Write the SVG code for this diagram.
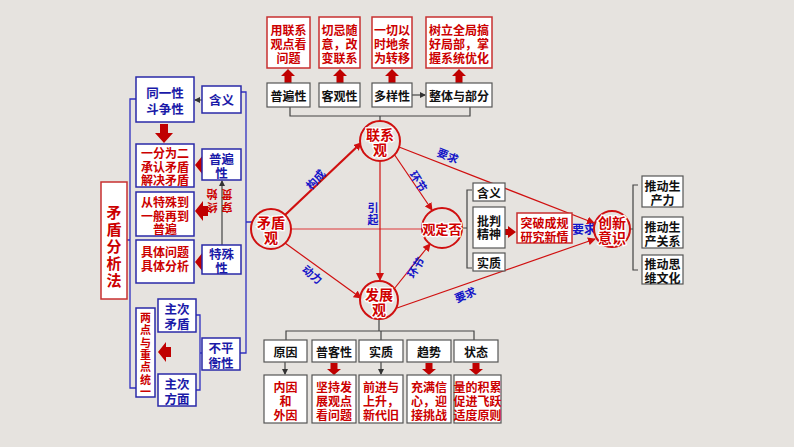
<svg xmlns="http://www.w3.org/2000/svg" width="794" height="447" viewBox="0 0 794 447">
<style>
text{font-family:"Noto Sans CJK SC","Noto Sans",sans-serif;font-weight:bold;text-anchor:middle;dominant-baseline:central}
.bb{fill:#fff;stroke:#2a2aa8;stroke-width:1.5}
.rb{fill:#fff;stroke:#c83030;stroke-width:1.5}
.gb{fill:#fff;stroke:#555;stroke-width:1.2}
.bt{fill:#1a1aa8;font-size:12.5px}
.rt{fill:#cc0000;font-size:12px}
.kt{fill:#111;font-size:12px}
.ct{fill:#d00000;font-size:14px;stroke:#fff;stroke-width:2.5;paint-order:stroke}
.cc{fill:#e6e3df;stroke:#d01010;stroke-width:2}
.lb{fill:#1515c8;font-size:11px}
.bl{stroke:#3030c0;stroke-width:1.3;fill:none}
.kl{stroke:#444;stroke-width:1.2;fill:none}
.rl{stroke:#d01010;stroke-width:1.2;fill:none}
.ba{fill:#c00000}
</style>
<defs>
<marker id="ra" markerWidth="8" markerHeight="8" refX="7" refY="4" orient="auto" markerUnits="userSpaceOnUse"><path d="M0,0 L8,4 L0,8 Z" fill="#d01010"/></marker>
<marker id="ka" markerWidth="6" markerHeight="6" refX="5" refY="3" orient="auto" markerUnits="userSpaceOnUse"><path d="M0,0 L6,3 L0,6 Z" fill="#333"/></marker>
<path id="ua" d="M0,0 L7,7 L3.5,7 L3.5,14 L-3.5,14 L-3.5,7 L-7,7 Z"/>
<path id="da" d="M0,0 L-7,-6 L-3.5,-6 L-3.5,-12 L3.5,-12 L3.5,-6 L7,-6 Z"/>
<path id="la" d="M0,0 L8,-10 L8,-5 L13,-5 L13,5 L8,5 L8,10 Z"/>
</defs>
<rect width="794" height="447" fill="#e6e3df"/>

<g id="connectors">
<path class="bl" d="M136,99 H130 V388 H136 M127,240 H130"/>
<path class="bl" d="M241,92 H246 V353 H240 M246,222 H253"/>
<path class="bl" d="M196,315 H200 V390 H196 M200,353 H202"/>
<path class="kl" d="M202,100 H195" marker-end="url(#ka)"/>
<path class="kl" d="M222,245 V181" marker-end="url(#ka)"/>
<path class="kl" d="M290,107 V116 H470 V107 M380,116 V121"/>
<path class="kl" d="M412,95 H425" marker-end="url(#ka)"/>
<path class="kl" d="M379,319 V331 M286,340 V331 H474 V340 M381,331 V340"/>
<path class="kl" d="M285,362 V374" marker-end="url(#ka)"/>
<path class="kl" d="M381,362 V374" marker-end="url(#ka)"/>
<path class="kl" d="M462,228 H467 M472,190 H467 V268 H472"/>
<path class="kl" d="M630,229 H633 M638,185 H633 V270 H638"/>
<path d="M285,215 L361,143" stroke="#d01010" stroke-width="2.2" fill="none" marker-end="url(#ra)"/>
<path class="rl" d="M285,243 L361,298" marker-end="url(#ra)"/>
<path d="M291,229 H422" stroke="#e07070" stroke-width="1.3"/>
<path class="rl" d="M380,162 V280" marker-end="url(#ra)"/>
<path class="rl" d="M394,154 L432,210" marker-end="url(#ra)"/>
<path class="rl" d="M394,289 L430,244" marker-end="url(#ra)"/>
<path class="rl" d="M399,147 L594,223" marker-end="url(#ra)"/>
<path class="rl" d="M397,308 L595,239" marker-end="url(#ra)"/>
<text class="lb" transform="translate(315,179) rotate(-48)">构成</text>
<text class="lb" transform="translate(313,274) rotate(40)">动力</text>
<text class="lb" x="373" y="207"><tspan x="373">引</tspan><tspan x="373" dy="12">起</tspan></text>
<text class="lb" transform="translate(419,181) rotate(58)">环节</text>
<text class="lb" transform="translate(415,267) rotate(-58)">环节</text>
<text class="lb" transform="translate(448,155) rotate(22)">要求</text>
<text class="lb" transform="translate(465,294) rotate(-22)">要求</text>
<text class="lb" x="584" y="228" style="font-size:12px">要求</text>
<text class="rt" style="font-size:11px" transform="rotate(180 220 201)"><tspan x="213" y="194">穿</tspan><tspan x="213" y="207">贯</tspan><tspan x="228" y="194">终</tspan><tspan x="228" y="207">始</tspan></text>
<g class="ba">
<use href="#ua" x="288" y="69"/><use href="#ua" x="340" y="69"/><use href="#ua" x="392" y="69"/><use href="#ua" x="459" y="69"/>
<use href="#da" x="334" y="375"/><use href="#da" x="429" y="375"/><use href="#da" x="476" y="375"/>
<path d="M164,143 L155,133 L160,133 L160,124 L168,124 L168,133 L173,133 Z"/>
<use href="#la" x="195" y="165"/><use href="#la" x="195" y="211"/><use href="#la" x="195" y="262"/><use href="#la" x="158" y="352"/>
<path d="M516,232 L508,226 L508,229 L505,229 L505,235 L508,235 L508,238 Z"/>
</g>
</g>

<g id="title"><rect x="101" y="182" width="26" height="117" class="rb"/>
<text class="rt" style="font-size:15px"><tspan x="114" y="211">矛</tspan><tspan x="114" dy="17">盾</tspan><tspan x="114" dy="17">分</tspan><tspan x="114" dy="17">析</tspan><tspan x="114" dy="17">法</tspan></text></g>

<g id="n-tongyi"><rect x="136" y="77" width="58" height="45" class="bb"/><text class="bt"><tspan x="165" y="92">同一性</tspan><tspan x="165" dy="16">斗争性</tspan></text></g>
<g id="n-yifen"><rect x="136" y="144" width="58" height="43" class="bb"/><text class="rt"><tspan x="165" y="152">一分为二</tspan><tspan x="165" dy="13.5">承认矛盾</tspan><tspan x="165" dy="13.5">解决矛盾</tspan></text></g>
<g id="n-cong"><rect x="136" y="192" width="58" height="44" class="bb"/><text class="rt"><tspan x="165" y="201">从特殊到</tspan><tspan x="165" dy="13.5">一般再到</tspan><tspan x="165" dy="13.5">普遍</tspan></text></g>
<g id="n-juti"><rect x="136" y="240" width="58" height="43" class="bb"/><text class="rt"><tspan x="165" y="251">具体问题</tspan><tspan x="165" dy="14">具体分析</tspan></text></g>
<g id="n-liangdian"><rect x="136" y="308" width="19" height="89" class="bb"/>
<text class="rt" style="font-size:11px"><tspan x="145.5" y="317">两</tspan><tspan x="145.5" dy="12.3">点</tspan><tspan x="145.5" dy="12.3">与</tspan><tspan x="145.5" dy="12.3">重</tspan><tspan x="145.5" dy="12.3">点</tspan><tspan x="145.5" dy="12.3">统</tspan><tspan x="145.5" dy="12.3">一</tspan></text></g>
<g id="n-zhucimaodun"><rect x="158" y="299" width="38" height="33" class="bb"/><text class="bt"><tspan x="177" y="308">主次</tspan><tspan x="177" dy="15">矛盾</tspan></text></g>
<g id="n-zhucifangmian"><rect x="158" y="374" width="38" height="32" class="bb"/><text class="bt"><tspan x="177" y="383">主次</tspan><tspan x="177" dy="15">方面</tspan></text></g>
<g id="n-bupingheng"><rect x="202" y="338" width="38" height="32" class="bb"/><text class="bt"><tspan x="221" y="347">不平</tspan><tspan x="221" dy="15">衡性</tspan></text></g>
<g id="n-hanyi1"><rect x="202" y="86" width="39" height="27" class="bb"/><text class="bt" x="221.5" y="99">含义</text></g>
<g id="n-pubian1"><rect x="202" y="149" width="39" height="31" class="bb"/><text class="bt"><tspan x="221.5" y="158">普遍</tspan><tspan x="221.5" dy="14">性</tspan></text></g>
<g id="n-teshu"><rect x="202" y="245" width="39" height="29" class="bb"/><text class="bt"><tspan x="221.5" y="253">特殊</tspan><tspan x="221.5" dy="14">性</tspan></text></g>

<g id="n-top1"><rect x="267" y="17" width="43" height="51" class="rb"/><text class="rt"><tspan x="288.5" y="28.5">用联系</tspan><tspan x="288.5" dy="14">观点看</tspan><tspan x="288.5" dy="14">问题</tspan></text></g>
<g id="n-top2"><rect x="319" y="17" width="41" height="51" class="rb"/><text class="rt"><tspan x="339.5" y="28.5">切忌随</tspan><tspan x="339.5" dy="14">意，改</tspan><tspan x="339.5" dy="14">变联系</tspan></text></g>
<g id="n-top3"><rect x="372" y="17" width="40" height="51" class="rb"/><text class="rt"><tspan x="392" y="28.5">一切以</tspan><tspan x="392" dy="14">时地条</tspan><tspan x="392" dy="14">为转移</tspan></text></g>
<g id="n-top4"><rect x="426" y="17" width="66" height="51" class="rb"/><text class="rt"><tspan x="459" y="28.5">树立全局搞</tspan><tspan x="459" dy="14">好局部，掌</tspan><tspan x="459" dy="14">握系统优化</tspan></text></g>
<g id="n-pubian2"><rect x="267" y="83" width="43" height="24" class="gb"/><text class="kt" x="288.5" y="95">普遍性</text></g>
<g id="n-keguan"><rect x="319" y="83" width="41" height="24" class="gb"/><text class="kt" x="339.5" y="95">客观性</text></g>
<g id="n-duoyang"><rect x="372" y="83" width="40" height="24" class="gb"/><text class="kt" x="392" y="95">多样性</text></g>
<g id="n-zhengti"><rect x="426" y="83" width="66" height="24" class="gb"/><text class="kt" x="459" y="95">整体与部分</text></g>

<g id="c-lianxi"><circle cx="380" cy="141" r="20" class="cc"/><text class="ct"><tspan x="380" y="134">联系</tspan><tspan x="380" dy="15">观</tspan></text></g>
<g id="c-maodun"><circle cx="271" cy="229" r="20" class="cc"/><text class="ct"><tspan x="271" y="222">矛盾</tspan><tspan x="271" dy="15">观</tspan></text></g>
<g id="c-fouding"><circle cx="442" cy="228" r="20" class="cc"/><text class="ct" x="442" y="228" style="font-size:13px">观定否</text></g>
<g id="c-fazhan"><circle cx="379" cy="300" r="19" class="cc"/><text class="ct"><tspan x="379" y="294">发展</tspan><tspan x="379" dy="15">观</tspan></text></g>
<g id="c-chuangxin"><circle cx="612" cy="229" r="18" class="cc"/><text class="ct"><tspan x="612" y="222">创新</tspan><tspan x="612" dy="15">意识</tspan></text></g>

<g id="n-hanyi2"><rect x="473" y="183" width="32" height="18" class="gb"/><text class="kt" x="489" y="192">含义</text></g>
<g id="n-pipan"><rect x="473" y="207" width="32" height="41" class="gb"/><text class="kt"><tspan x="489" y="220">批判</tspan><tspan x="489" dy="13">精神</tspan></text></g>
<g id="n-shizhi1"><rect x="473" y="253" width="32" height="18" class="gb"/><text class="kt" x="489" y="262">实质</text></g>
<g id="n-tupo"><rect x="517" y="213" width="55" height="30" class="rb"/><text class="rt"><tspan x="544.5" y="222">突破成规</tspan><tspan x="544.5" dy="14">研究新情</tspan></text></g>
<g id="n-shengchanli"><rect x="642" y="176" width="41" height="31" class="gb"/><text class="kt"><tspan x="662.5" y="185">推动生</tspan><tspan x="662.5" dy="14">产力</tspan></text></g>
<g id="n-guanxi"><rect x="642" y="217" width="41" height="31" class="gb"/><text class="kt"><tspan x="662.5" y="226">推动生</tspan><tspan x="662.5" dy="14">产关系</tspan></text></g>
<g id="n-siwei"><rect x="642" y="255" width="41" height="29" class="gb"/><text class="kt"><tspan x="662.5" y="263">推动思</tspan><tspan x="662.5" dy="14">维文化</tspan></text></g>

<g id="n-yuanyin"><rect x="264" y="340" width="43" height="22" class="gb"/><text class="kt" x="285.5" y="351">原因</text></g>
<g id="n-pukexing"><rect x="312" y="340" width="44" height="22" class="gb"/><text class="kt" x="334" y="351">普客性</text></g>
<g id="n-shizhi2"><rect x="359" y="340" width="44" height="22" class="gb"/><text class="kt" x="381" y="351">实质</text></g>
<g id="n-qushi"><rect x="407" y="340" width="44" height="22" class="gb"/><text class="kt" x="429" y="351">趋势</text></g>
<g id="n-zhuangtai"><rect x="454" y="340" width="44" height="22" class="gb"/><text class="kt" x="476" y="351">状态</text></g>
<g id="n-neiyin"><rect x="264" y="375" width="43" height="48" class="gb"/><text class="rt"><tspan x="285.5" y="386">内因</tspan><tspan x="285.5" dy="14">和</tspan><tspan x="285.5" dy="14">外因</tspan></text></g>
<g id="n-jianchi"><rect x="312" y="375" width="44" height="48" class="gb"/><text class="rt"><tspan x="334" y="386">坚持发</tspan><tspan x="334" dy="14">展观点</tspan><tspan x="334" dy="14">看问题</tspan></text></g>
<g id="n-qianjin"><rect x="359" y="375" width="44" height="48" class="gb"/><text class="rt"><tspan x="381" y="386">前进与</tspan><tspan x="381" dy="14">上升，</tspan><tspan x="381" dy="14">新代旧</tspan></text></g>
<g id="n-chongman"><rect x="407" y="375" width="44" height="48" class="gb"/><text class="rt"><tspan x="429" y="386">充满信</tspan><tspan x="429" dy="14">心，迎</tspan><tspan x="429" dy="14">接挑战</tspan></text></g>
<g id="n-liangde"><rect x="454" y="375" width="47" height="48" class="gb"/><text class="rt"><tspan x="477.5" y="386">量的积累</tspan><tspan x="477.5" dy="14">促进飞跃</tspan><tspan x="477.5" dy="14">适度原则</tspan></text></g>
</svg>
